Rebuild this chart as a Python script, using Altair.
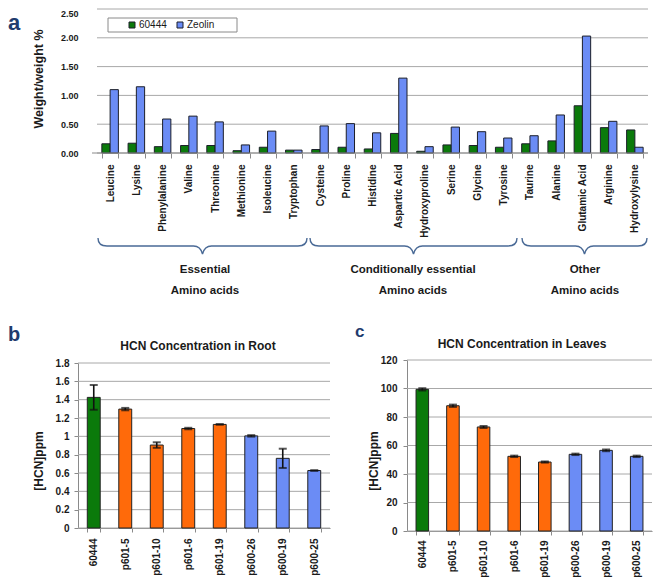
import altair as alt
import pandas as pd

FONT = "Liberation Sans"
GREEN = "#0b7a0b"
BLUE = "#6b8cf5"
ORANGE = "#ff6a0a"
NAVY = "#1f3c6e"
BRACE = "#4a6a96"
GRID = "#a8a8a8"
AXIS = "#8a8a8a"
INK = "#1a1a1a"

# ---------------- panel a data ----------------
amino = ["Leucine", "Lysine", "Phenylalanine", "Valine", "Threonine", "Methionine",
         "Isoleucine", "Tryptophan", "Cysteine", "Proline", "Histidine", "Aspartic Acid",
         "Hydroxyproline", "Serine", "Glycine", "Tyrosine", "Taurine", "Alanine",
         "Glutamic Acid", "Arginine", "Hydroxylysine"]
series = ["60444", "Zeolin"]
v60444 = [0.16, 0.17, 0.11, 0.13, 0.13, 0.04, 0.10, 0.05, 0.06, 0.10, 0.07, 0.34,
          0.03, 0.14, 0.13, 0.10, 0.16, 0.21, 0.82, 0.44, 0.40]
vzeolin = [1.10, 1.15, 0.59, 0.64, 0.54, 0.14, 0.38, 0.05, 0.47, 0.51, 0.35, 1.30,
           0.11, 0.45, 0.37, 0.26, 0.30, 0.66, 2.03, 0.55, 0.10]
a_ticks = [0, 0.5, 1.0, 1.5, 2.0, 2.5]
groups = ["Essential", "Conditionally essential", "Other"]

# ---------------- panels b / c data ----------------
lines = ["60444", "p601-5", "p601-10", "p601-6", "p601-19", "p600-26", "p600-19", "p600-25"]
line_group = ["60444", "p601", "p601", "p601", "p601", "p600", "p600", "p600"]
root = [1.425, 1.297, 0.905, 1.085, 1.130, 1.005, 0.760, 0.627]
root_err = [0.135, 0.013, 0.030, 0.008, 0.003, 0.008, 0.105, 0.003]
leaves = [99.4, 87.9, 73.0, 52.4, 48.4, 53.8, 56.6, 52.4]
leaves_err = [0.8, 0.8, 0.7, 0.5, 0.4, 0.5, 0.6, 0.5]
b_ticks = [0, 0.2, 0.4, 0.6, 0.8, 1.0, 1.2, 1.4, 1.6, 1.8]
c_ticks = [0, 20, 40, 60, 80, 100, 120]


def txt(text, x, y, size, weight="bold", color=INK, angle=0, align="center", baseline="middle"):
    return alt.Chart(pd.DataFrame({"t": [text]})).mark_text(
        align=align, baseline=baseline, fontSize=size, fontWeight=weight,
        color=color, angle=angle, font=FONT
    ).encode(text="t:N", x=alt.value(x), y=alt.value(y))


def brace_path(w):
    h = w / 2
    return (f"M {-h} -8 Q {-h} 0 {-h + 9} 0 L -9 0 Q -2 0 0 8 "
            f"Q 2 0 9 0 L {h - 9} 0 Q {h} 0 {h} -8")


def brace(cx, cy, w):
    return alt.Chart(pd.DataFrame({"d": [0]})).mark_point(
        shape=brace_path(w), size=4, filled=False, color=BRACE,
        strokeWidth=1.4, opacity=1
    ).encode(x=alt.value(cx), y=alt.value(cy))


# ---------------- panel a ----------------
A_W, A_H, A_X0 = 570, 144, 19
df_a = pd.DataFrame({
    "amino": amino * 2,
    "series": [series[0]] * len(amino) + [series[1]] * len(amino),
    "value": v60444 + vzeolin,
})
a_yscale = alt.Scale(domain=[0, 2.5], nice=False)
a_yaxis = alt.Axis(values=a_ticks, format=".2f", title=None, domain=False, ticks=False,
                   grid=False, labelOverlap=False, labelPadding=0, labelFontWeight="bold",
                   labelFontSize=9, labelColor=INK,
                   labelBaseline={"condition": {"test": "datum.value >= 2.5", "value": "top"},
                                  "value": "middle"})

grid_a = alt.Chart(pd.DataFrame({"g": a_ticks})).mark_rule(color=GRID, strokeWidth=1).encode(
    y=alt.Y("g:Q", scale=a_yscale, axis=a_yaxis),
    x=alt.value(A_X0), x2=alt.value(A_W))

legend_box = alt.Chart(pd.DataFrame({"d": [0]})).mark_rect(
    fill="white", stroke="#8a8a8a", strokeWidth=1
).encode(x=alt.value(30), x2=alt.value(159), y=alt.value(9), y2=alt.value(23))

bars_a = alt.Chart(df_a).mark_bar(stroke="#1c1f2a", strokeWidth=1).encode(
    x=alt.X("amino:N", sort=amino,
            scale=alt.Scale(paddingInner=0.37, paddingOuter=0.185, range=[A_X0, A_W]),
            axis=alt.Axis(title=None, labelAngle=-90, labelFontSize=10, labelFontWeight="bold",
                          labelColor=INK, tickBand="extent", tickColor=AXIS, tickSize=5,
                          domain=False, labelPadding=6, grid=False)),
    xOffset=alt.XOffset("series:N", sort=series, scale=alt.Scale(paddingInner=0, paddingOuter=0)),
    y=alt.Y("value:Q", scale=a_yscale, axis=a_yaxis),
    color=alt.Color("series:N", sort=series,
                    scale=alt.Scale(domain=series, range=[GREEN, BLUE]),
                    legend=alt.Legend(title=None, orient="none", legendX=49, legendY=11,
                                      direction="horizontal", padding=0, symbolType="square",
                                      symbolSize=36, symbolStrokeColor="#1c1f2a",
                                      symbolStrokeWidth=1, labelFontSize=10, labelColor=INK,
                                      columnPadding=8, labelOffset=2)),
)

domain_a = alt.Chart(pd.DataFrame({"d": [0]})).mark_rule(color=AXIS, strokeWidth=1).encode(
    x=alt.value(A_X0 - 5), x2=alt.value(A_W), y=alt.value(A_H))

panel_a = alt.layer(
    grid_a,
    legend_box,
    bars_a,
    domain_a,
    txt("a", -70, 4, 22, color=NAVY, align="left", baseline="top"),
    txt("Weight/weight %", -39, 70, 12.5, angle=270),
    brace(124.5, 237, 209),
    brace(335.5, 237, 207),
    brace(506.5, 237, 125),
    txt(groups[0], 127, 261, 11.5),
    txt("Amino acids", 127, 282, 11.5),
    txt(groups[1], 335, 261, 11.5),
    txt("Amino acids", 335, 282, 11.5),
    txt(groups[2], 507, 261, 11.5),
    txt("Amino acids", 507, 282, 11.5),
).properties(width=A_W, height=A_H)


# ---------------- panels b / c ----------------
def hcn_panel(values, errs, ticks, fmt, w, h, top, letter, lsize, lx, ly, title, tx, ty,
              yx, yy, lpad, xpad):
    df = pd.DataFrame({
        "line": lines, "grp": line_group, "val": values,
        "lo": [v - e for v, e in zip(values, errs)],
        "hi": [v + e for v, e in zip(values, errs)],
    })
    x = alt.X("line:N", sort=lines, scale=alt.Scale(paddingInner=0.59, paddingOuter=0.295),
              axis=alt.Axis(title=None, labelAngle=-90, labelFontSize=10, labelFontWeight="bold",
                            labelColor=INK, tickBand="extent", tickColor=AXIS, tickSize=4,
                            domainColor=AXIS, labelPadding=xpad, grid=False))
    ys = alt.Scale(domain=[ticks[0], ticks[-1]], nice=False, range=[h, top])
    ya = alt.Axis(values=ticks, format=fmt, title=None, domainColor=AXIS, grid=False,
                  labelOverlap=False, tickColor=AXIS, tickSize=4, labelPadding=lpad,
                  labelFontWeight="bold", labelFontSize=10, labelColor=INK)
    grid = alt.Chart(pd.DataFrame({"g": ticks})).mark_rule(color=GRID, strokeWidth=1).encode(
        y=alt.Y("g:Q", scale=ys, axis=ya))
    base = alt.Chart(df)
    bars = base.mark_bar(stroke="#222222", strokeWidth=1).encode(
        x=x,
        y=alt.Y("val:Q", scale=ys, axis=ya),
        color=alt.Color("grp:N", scale=alt.Scale(domain=["60444", "p601", "p600"],
                                                 range=[GREEN, ORANGE, BLUE]), legend=None),
    )
    err = base.mark_rule(color="#111111", strokeWidth=1.6).encode(
        x=x, y=alt.Y("lo:Q", scale=ys, axis=ya), y2="hi:Q")
    cap_hi = base.mark_tick(color="#111111", thickness=2, size=8, orient="horizontal").encode(
        x=x, y=alt.Y("hi:Q", scale=ys, axis=ya))
    cap_lo = base.mark_tick(color="#111111", thickness=2, size=8, orient="horizontal").encode(
        x=x, y=alt.Y("lo:Q", scale=ys, axis=ya))
    return alt.layer(
        grid, bars, err, cap_hi, cap_lo,
        txt(letter, lx, ly, lsize, color=NAVY, align="left", baseline="top"),
        txt(title, tx, ty, 12),
        txt("[HCN]ppm", yx, yy, 12, angle=270),
    ).properties(width=w, height=h)


panel_b = hcn_panel(root, root_err, b_ticks, "~g", 252, 168, 3, "b", 20, -70, -35.5,
                    "HCN Concentration in Root", 120, -14, -39, 101, 5, 6)
panel_c = hcn_panel(leaves, leaves_err, c_ticks, "d", 245, 171, 0, "c", 17, -52, -35.7,
                    "HCN Concentration in Leaves", 115, -16, -33.5, 101, 6, 5)

bottom = alt.hconcat(panel_b, panel_c, spacing=77, bounds="flush").resolve_scale(
    color="independent")

chart = alt.vconcat(
    panel_a,
    bottom,
    spacing=207,
    bounds="flush",
).resolve_scale(color="independent").properties(padding=0).configure_view(stroke=None).configure_axis(
    labelFont=FONT, titleFont=FONT
).configure_legend(labelFont=FONT).configure_text(font=FONT)

chart.save("out.html", embed_options={"renderer": "svg", "actions": False})
